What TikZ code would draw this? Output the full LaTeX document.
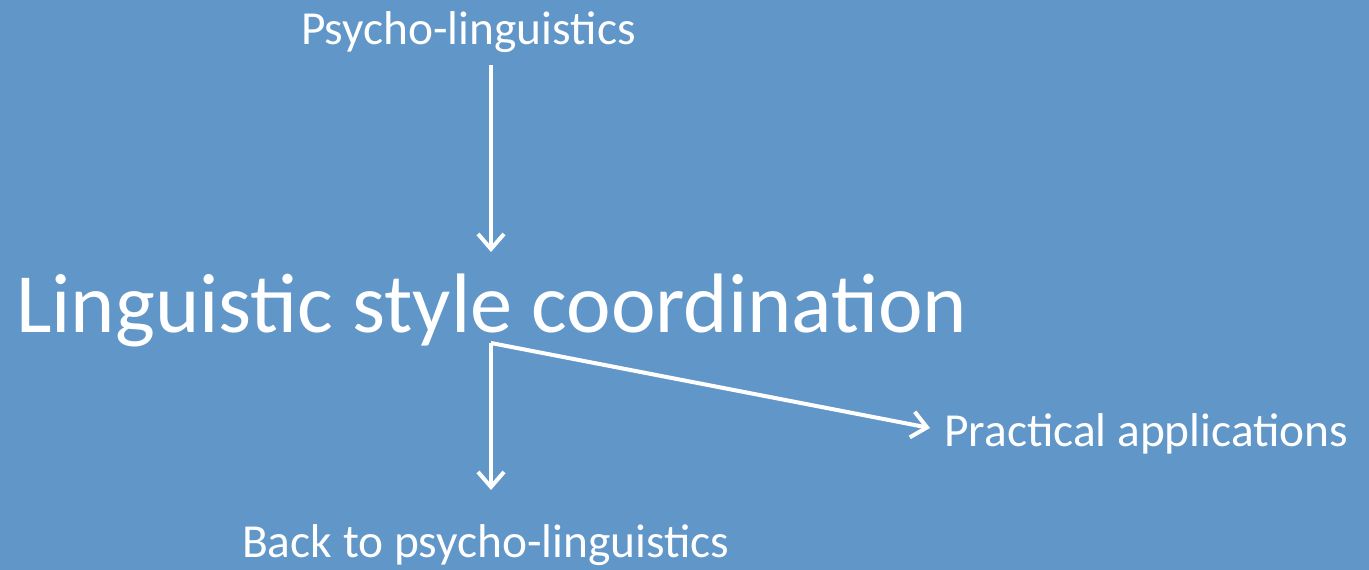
\documentclass[tikz,border=0pt]{standalone}
\usepackage{fontspec}
\setmainfont{Carlito}
\usetikzlibrary{arrows.meta}
\definecolor{bg}{RGB}{96,150,200}
\tikzset{
  lbl/.style={text=white, inner sep=0pt, anchor=base west},
  small/.style={lbl, font=\fontsize{47.4}{47.4}\selectfont},
  arr/.style={draw=white, line width=4pt, -{Straight Barb[length=15pt,width=26pt,line width=4pt]}}
}
\begin{document}
\begin{tikzpicture}[x=1pt,y=-1pt]
\fill[bg] (0,0) rectangle (1369,570);
\useasboundingbox (0,0) rectangle (1369,570);
\node[small] (pl) at (301,45) {Psycho-linguistics};
\node[lbl, font=\fontsize{84.4}{84.4}\selectfont] (lsc) at (16,332) {Linguistic style coordination};
\node[small] (pa) at (944,446) {Practical applications};
\node[small] (bp) at (242,557) {Back to psycho-linguistics};
\coordinate (t0) at (491,65);
\coordinate (t1) at (491,252);
\coordinate (c) at (491,343);
\coordinate (b1) at (491,490);
\coordinate (p1) at (930,428);
\draw[arr] (t0) -- (t1);
\draw[arr] (c) -- (b1);
\draw[arr] (c) -- (p1);
\end{tikzpicture}
\end{document}
